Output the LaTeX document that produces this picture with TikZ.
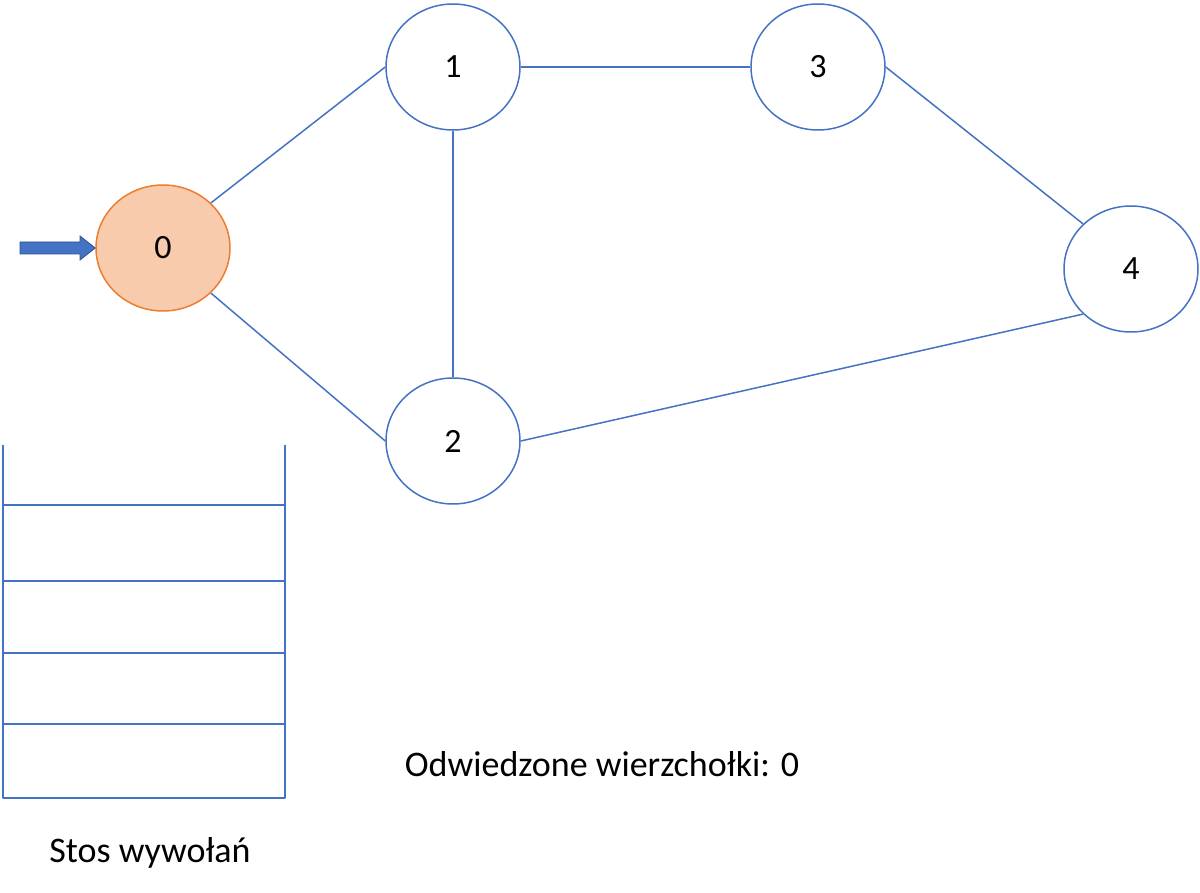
\documentclass[tikz,border=0pt]{standalone}
\usepackage{fontspec}
\setmainfont{Carlito}
\usetikzlibrary{shapes.geometric}
\definecolor{eblue}{HTML}{4472C4}
\definecolor{dblue}{HTML}{2F528F}
\definecolor{ofill}{HTML}{F8CBAD}
\definecolor{oline}{HTML}{ED7D31}
\begin{document}
\begin{tikzpicture}[x=1pt,y=-1pt,
  vert/.style={ellipse,draw=eblue,line width=1.5pt,fill=white,minimum width=134pt,minimum height=126pt,inner sep=0pt,font=\fontsize{34}{40}\selectfont},
  cur/.style={vert,draw=oline,fill=ofill},
  edge/.style={eblue,line width=1.5pt},
  stackline/.style={eblue,line width=2.8pt},
  lbl/.style={font=\fontsize{36}{42}\selectfont,inner sep=0pt}]
\useasboundingbox (0,0) rectangle (1200,893);
\node[cur] (n0) at (163,248) {0};
\node[vert] (n1) at (453,67) {1};
\node[vert] (n3) at (818,67) {3};
\node[vert] (n2) at (453,441) {2};
\node[vert] (n4) at (1131,269) {4};
\draw[edge] (n0.north east) -- (n1.west);
\draw[edge] (n0.south east) -- (n2.west);
\draw[edge] (n1.south) -- (n2.north);
\draw[edge] (n1.east) -- (n3.west);
\draw[edge] (n3.east) -- (n4.north west);
\draw[edge] (n2.east) -- (n4.south west);
% start arrow (block arrow)
\draw[draw=dblue,fill=eblue,line width=0.8pt,line join=miter]
  (20,242) -- (80,242) -- (80,236) -- (n0.west) -- (80,260) -- (80,254) -- (20,254) -- cycle;
% stack
\coordinate (sa) at (3,445);
\coordinate (sb) at (3,798);
\coordinate (sc) at (285,798);
\coordinate (sd) at (285,445);
\draw[stackline,line join=round] (sa) -- (sb) -- (sc) -- (sd);
\foreach \yy in {505,581,653,724}{
  \draw[stackline] (3,\yy) -- (285,\yy);
}
\node[lbl] (stos) at (150,853) {Stos wywołań};
\node[lbl] (odw) at (602,764) {Odwiedzone wierzchołki: 0};
\end{tikzpicture}
\end{document}
